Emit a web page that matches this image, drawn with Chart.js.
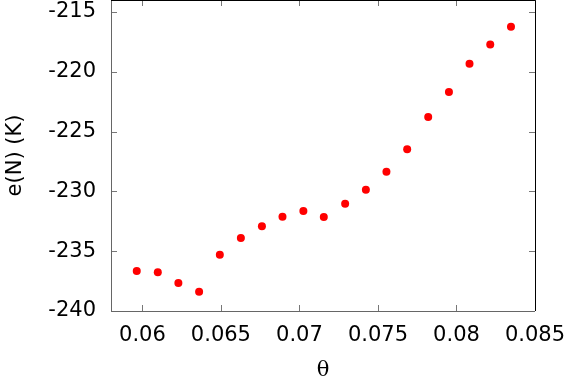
<!DOCTYPE html>
<html>
<head>
<meta charset="utf-8">
<script src="https://cdn.jsdelivr.net/npm/chart.js@4.4.0/dist/chart.umd.min.js"></script>
<style>
  html, body { margin: 0; padding: 0; background: #fff; }
  #wrap { width: 564px; height: 381px; }
</style>
</head>
<body>
<div id="wrap"><canvas id="thetaChart"></canvas></div>
<script>
// theta values (x) and e(N) in K (y)
const theta = [0.05964, 0.06098, 0.06229, 0.06361, 0.06493, 0.06627, 0.06761, 0.06892, 0.07025, 0.07155,
               0.07291, 0.07423, 0.07554, 0.07686, 0.07820, 0.07952, 0.08083, 0.08215, 0.08347];
const energy = [-236.66, -236.76, -237.66, -238.39, -235.29, -233.90, -232.92, -232.12, -231.64, -232.14,
                -231.03, -229.86, -228.35, -226.48, -223.78, -221.69, -219.32, -217.73, -216.23];

const xTicks = [0.06, 0.065, 0.07, 0.075, 0.08, 0.085];
const xTickLabels = ['0.06', '0.065', '0.07', '0.075', '0.08', '0.085'];
const yTicks = [-240, -235, -230, -225, -220, -215];
const yTickLabels = ['-240', '-235', '-230', '-225', '-220', '-215'];

const points = theta.map((t, i) => ({ x: t, y: energy[i] }));

// inward tick marks on all four sides + frame, gnuplot style
const frame = {
    id: 'frame',
    afterDraw(chart) {
        const { ctx, chartArea: a, scales } = chart;
        const len = 6;
        ctx.save();
        ctx.lineWidth = 1;
        ctx.strokeStyle = '#777';
        ctx.beginPath();
        xTicks.forEach(v => {
            const px = Math.round(scales.x.getPixelForValue(v)) + 0.5;
            ctx.moveTo(px, a.bottom); ctx.lineTo(px, a.bottom - len);
            ctx.moveTo(px, a.top); ctx.lineTo(px, a.top + len);
        });
        yTicks.forEach(v => {
            const py = Math.round(scales.y.getPixelForValue(v)) + 0.5;
            ctx.moveTo(a.left, py); ctx.lineTo(a.left + len, py);
            ctx.moveTo(a.right, py); ctx.lineTo(a.right - len, py);
        });
        ctx.stroke();
        // left + bottom grey, top + right black
        ctx.strokeStyle = '#666';
        ctx.beginPath();
        ctx.moveTo(Math.round(a.left) + 0.5, a.top);
        ctx.lineTo(Math.round(a.left) + 0.5, Math.round(a.bottom) + 0.5);
        ctx.lineTo(a.right, Math.round(a.bottom) + 0.5);
        ctx.stroke();
        ctx.strokeStyle = '#000';
        ctx.beginPath();
        ctx.moveTo(a.left, Math.round(a.top) + 0.5);
        ctx.lineTo(Math.round(a.right) + 0.5, Math.round(a.top) + 0.5);
        ctx.lineTo(Math.round(a.right) + 0.5, a.bottom);
        ctx.stroke();
        ctx.restore();
    }
};

const ctx = document.getElementById('thetaChart');
new Chart(ctx, {
    type: 'scatter',
    data: {
        datasets: [{
            data: points,
            backgroundColor: '#ff0000',
            borderWidth: 0,
            pointRadius: 4,
            pointHoverRadius: 4
        }]
    },
    options: {
        responsive: true,
        maintainAspectRatio: false,
        animation: false,
        events: [],
        layout: { autoPadding: false, padding: { top: 0, right: 29, left: 0, bottom: 0 } },
        plugins: {
            legend: { display: false },
            tooltip: { enabled: false }
        },
        scales: {
            x: {
                type: 'linear',
                min: 0.058,
                max: 0.085,
                afterBuildTicks: s => { s.ticks = xTicks.map(v => ({ value: v })); },
                afterFit: s => { s.height = 70; s.paddingLeft = 0; s.paddingRight = 0; },
                grid: { display: false, drawTicks: false },
                border: { display: false },
                ticks: {
                    padding: 12,
                    color: '#000',
                    font: { family: 'DejaVu Sans', size: 21 },
                    maxRotation: 0,
                    autoSkip: false,
                    callback: (v, i) => xTickLabels[i]
                },
                title: {
                    display: true,
                    text: 'θ',
                    color: '#000',
                    font: { family: 'DejaVu Serif', size: 21 },
                    padding: { top: 0, bottom: -2 }
                }
            },
            y: {
                type: 'linear',
                min: -240,
                max: -214,
                afterBuildTicks: s => { s.ticks = yTicks.map(v => ({ value: v })); },
                afterFit: s => { s.width = 111; s.paddingTop = 0; s.paddingBottom = 0; },
                grid: { display: false, drawTicks: false },
                border: { display: false },
                ticks: {
                    padding: 15,
                    color: '#000',
                    font: { family: 'DejaVu Sans', size: 21 },
                    autoSkip: false,
                    callback: (v, i) => yTickLabels[i]
                },
                title: {
                    display: true,
                    text: 'e(N) (K)',
                    color: '#000',
                    font: { family: 'DejaVu Sans', size: 21 },
                    padding: { top: 3, bottom: 0 }
                }
            }
        }
    },
    plugins: [frame]
});
</script>
</body>
</html>
